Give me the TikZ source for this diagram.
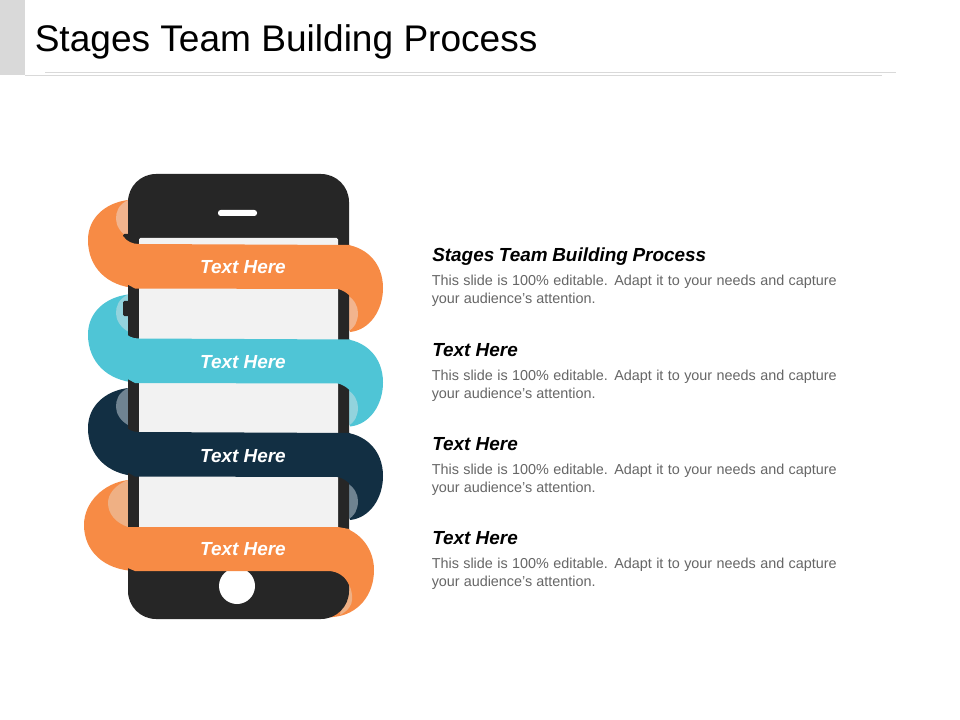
\documentclass[tikz,border=0pt]{standalone}
\usepackage{fontspec}
\setmainfont{Liberation Sans}
\definecolor{rorange}{HTML}{F78B45}
\definecolor{rorangeL}{HTML}{F2B48E}
\definecolor{rorangeM}{HTML}{EFB084}
\definecolor{rcyan}{HTML}{4FC5D6}
\definecolor{rcyanL}{HTML}{93D3DD}
\definecolor{rnavy}{HTML}{122F43}
\definecolor{rnavyL}{HTML}{6F8391}
\definecolor{phone}{HTML}{262626}
\definecolor{screen}{HTML}{F2F2F2}
\definecolor{rulegray}{HTML}{D9D9D9}
\definecolor{bodygray}{HTML}{666666}
\newcommand{\ribbonback}[3]{%
  \begin{scope}[yshift=#1*-0.75pt]
    \fill[#2] (128,200) .. controls (105,203) and (88,218) .. (88,240)
      .. controls (88,268) and (108,286) .. (135,288) -- (340,289) -- (350,332)
      .. controls (370,330) and (383,310) .. (383,288)
      .. controls (383,262) and (365,245) .. (340,244) -- (128,244) -- cycle;
    \fill[#3] (128,200) .. controls (118,205) and (116,212) .. (116,219)
      .. controls (116,226) and (121,233) .. (128,237) -- cycle;
    \fill[#3] (347,295) .. controls (354,299) and (358,306) .. (358,313)
      .. controls (358,321) and (355,328) .. (347,332) -- cycle;
  \end{scope}}
\newcommand{\ribbonfront}[2]{%
  \begin{scope}[yshift=#1*-0.75pt]
    \fill[#2] (123,236) .. controls (127,242) and (133,244) .. (139,244)
      -- (350,245) -- (350,296) .. controls (346,292) and (342,290) .. (338,289)
      -- (135,288.5) -- (123,282) -- cycle;
  \end{scope}}
\tikzset{
  x=0.75pt, y=-0.75pt,
  bandtext/.style={text=white,font=\fontsize{14.2pt}{16pt}\selectfont\bfseries\itshape,inner sep=0pt,anchor=base},
  headtext/.style={text=black,font=\fontsize{14.2pt}{16pt}\selectfont\bfseries\itshape,inner sep=0pt,anchor=base west},
  bodytext/.style={text=bodygray,font=\fontsize{10.8pt}{13pt}\selectfont,inner sep=0pt,anchor=base west},
}
\newcommand{\lineone}{\makebox[303.75pt][s]{This slide is 100\% editable. Adapt it to your needs and capture}}
\begin{document}
\begin{tikzpicture}
\useasboundingbox (0,0) rectangle (960,720);
\fill[white] (0,0) rectangle (960,720);
% header
\fill[rulegray] (0,0) rectangle (25,75);
\draw[rulegray,line width=0.75pt] (45,72.5) -- (896,72.5);
\draw[rulegray,line width=0.75pt] (25,75.5) -- (882,75.5);
\node[text=black,font=\fontsize{27.8pt}{32pt}\selectfont,inner sep=0pt,anchor=base west] (title) at (34.5,52) {Stages Team Building Process};
% ribbon backs
\ribbonback{0}{rorange}{rorangeL}
\ribbonback{94.5}{rcyan}{rcyanL}
\ribbonback{188}{rnavy}{rnavyL}
\fill[rorange] (128,480) .. controls (104,483) and (84,502) .. (84,525)
  .. controls (84,551) and (104,570) .. (135,571) -- (328,571) -- (325,618) -- (333,617)
  .. controls (358,615) and (374,595) .. (374,570)
  .. controls (374,545) and (355,528) .. (338,527) -- (128,527) -- cycle;
\fill[rorangeM] (128,480) .. controls (115,485) and (108,494) .. (108,503)
  .. controls (108,514) and (116,523) .. (128,527) -- cycle;
\fill[rorangeM] (345,582) -- (349,582) .. controls (351,590) and (353,596) .. (352,600)
  .. controls (352,605) and (348,611) .. (340,615) -- cycle;
% side buttons
\fill[phone,rounded corners=1pt] (123,234) rectangle (130,242);
\fill[phone,rounded corners=1pt] (123,301) rectangle (130,316);
% phone
\fill[phone,rounded corners=21pt] (128,174) rectangle (349,619);
\fill[screen,rounded corners=1pt] (139,238) rectangle (338,540);
\fill[white,rounded corners=2pt] (218,210) rectangle (257,216);
\fill[white] (237,586) circle[radius=18];
% ribbon fronts
\ribbonfront{0}{rorange}
\ribbonfront{94.5}{rcyan}
\ribbonfront{188}{rnavy}
\fill[rorange] (123,527) -- (338,527) -- (349,529) -- (352,533) -- (352,590) -- (349,585)
  .. controls (346,577) and (338,571) .. (328,571) -- (135,571) -- (123,566) -- cycle;
% band labels
\node[bandtext] (b1) at (243,273.5) {Text Here};
\node[bandtext] (b2) at (243,368.5) {Text Here};
\node[bandtext] (b3) at (243,462.5) {Text Here};
\node[bandtext] (b4) at (243,555.5) {Text Here};
% right column
\node[headtext] (h1) at (432,261.5) {\makebox[205.5pt][s]{Stages Team Building Process}};
\node[bodytext] (t1a) at (431.5,286) {\lineone};
\node[bodytext] (t1b) at (431.5,304) {your audience's attention.};
\node[headtext] (h2) at (432,356) {Text Here};
\node[bodytext] (t2a) at (431.5,380) {\lineone};
\node[bodytext] (t2b) at (431.5,398) {your audience's attention.};
\node[headtext] (h3) at (432,450) {Text Here};
\node[bodytext] (t3a) at (431.5,474) {\lineone};
\node[bodytext] (t3b) at (431.5,492) {your audience's attention.};
\node[headtext] (h4) at (432,544) {Text Here};
\node[bodytext] (t4a) at (431.5,568) {\lineone};
\node[bodytext] (t4b) at (431.5,586) {your audience's attention.};
\end{tikzpicture}
\end{document}
